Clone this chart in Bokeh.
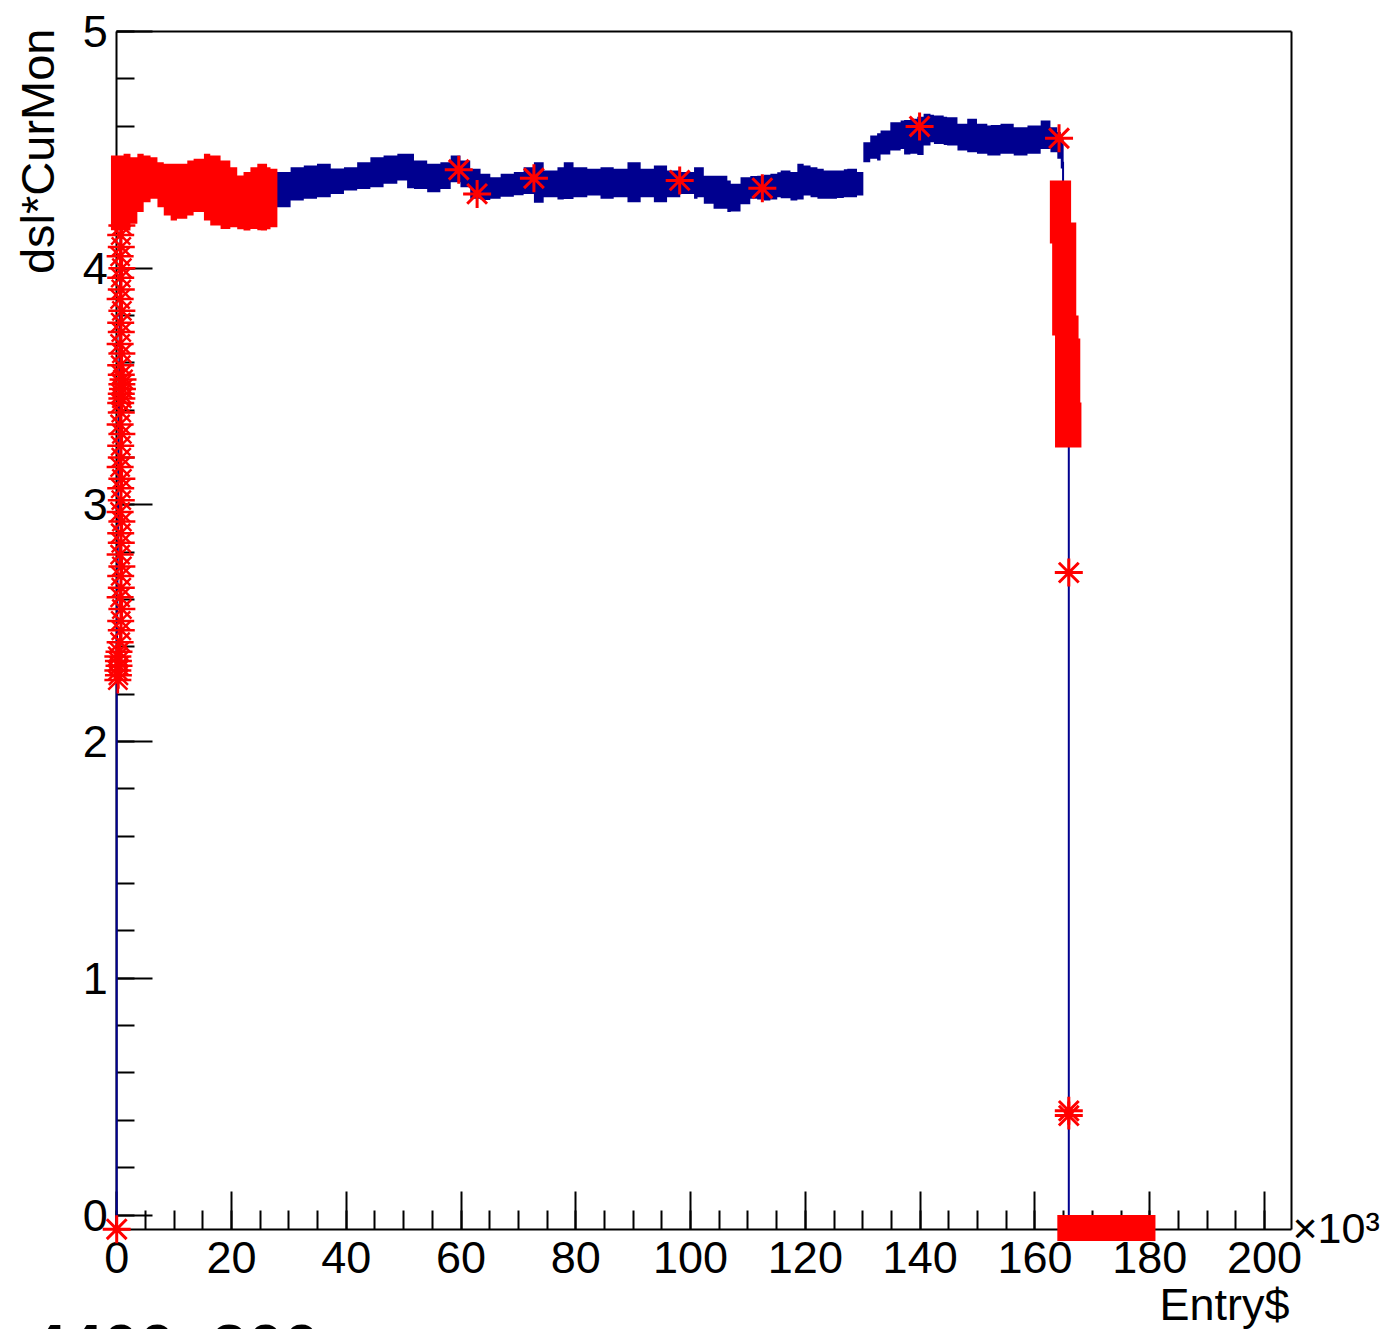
import math
from bokeh.plotting import figure
from bokeh.models import (Range1d, SingleIntervalTicker, FixedTicker, LinearAxis,
                          Label)
from bokeh.embed import file_html
from bokeh.resources import INLINE

# ---------------- data (x in units of 10^3 entries) ----------------
# blue band: upper / lower envelope of the dsl*CurMon trace
band_x = [26.0, 28.5, 30.3, 32.6, 34.9, 37.3, 39.6, 41.9, 44.2, 46.5,
          48.9, 50.6, 51.8, 54.1, 56.4, 58.2, 59.9, 61.6, 63.4, 65.1,
          66.9, 69.2, 70.9, 72.7, 74.4, 76.8, 77.9, 79.6, 82.0, 84.3,
          86.6, 89.0, 91.3, 93.6, 95.9, 98.2, 100.6, 101.2, 102.3, 104.0,
          106.4, 107.0, 108.7, 110.4, 111.6, 112.8, 113.9, 115.1, 115.7, 117.4,
          118.6, 119.7, 120.9, 122.1, 123.2, 124.4, 125.5, 126.7, 127.3, 129.0,
          130.1, 131.3, 132.5, 133.1, 134.8, 136.6, 137.2, 138.3, 139.5, 140.6,
          141.8, 142.4, 144.1, 144.7, 146.5, 148.2, 149.9, 151.7, 152.3, 154.0,
          156.3, 158.7, 161.0, 162.7, 163.9, 164.5, 165.0]
band_hi = [4.406, 4.406, 4.427, 4.434, 4.441, 4.421, 4.427, 4.448, 4.469, 4.476,
           4.483, 4.483, 4.455, 4.441, 4.448, 4.476, 4.455, 4.420, 4.399, 4.384,
           4.399, 4.406, 4.427, 4.448, 4.413, 4.427, 4.448, 4.427, 4.420, 4.427,
           4.420, 4.448, 4.420, 4.434, 4.413, 4.406, 4.427, 4.427, 4.391, 4.391,
           4.370, 4.357, 4.384, 4.390, 4.391, 4.395, 4.399, 4.405, 4.413, 4.406,
           4.441, 4.434, 4.427, 4.420, 4.413, 4.413, 4.413, 4.418, 4.420, 4.406,
           4.532, 4.561, 4.570, 4.582, 4.617, 4.624, 4.626, 4.631, 4.640, 4.652,
           4.648, 4.645, 4.640, 4.638, 4.610, 4.631, 4.610, 4.603, 4.605, 4.610,
           4.596, 4.603, 4.624, 4.596, 4.575, 4.550, 4.550]
band_lo = [4.258, 4.258, 4.286, 4.293, 4.300, 4.314, 4.328, 4.335, 4.342, 4.357,
           4.370, 4.338, 4.335, 4.321, 4.335, 4.363, 4.342, 4.293, 4.288, 4.293,
           4.302, 4.308, 4.314, 4.276, 4.300, 4.290, 4.292, 4.300, 4.307, 4.293,
           4.300, 4.279, 4.300, 4.279, 4.300, 4.314, 4.293, 4.300, 4.272, 4.251,
           4.237, 4.240, 4.270, 4.293, 4.290, 4.286, 4.290, 4.300, 4.295, 4.286,
           4.290, 4.307, 4.300, 4.293, 4.293, 4.293, 4.297, 4.300, 4.300, 4.307,
           4.448, 4.462, 4.455, 4.480, 4.497, 4.504, 4.480, 4.483, 4.478, 4.518,
           4.532, 4.525, 4.520, 4.518, 4.497, 4.490, 4.483, 4.476, 4.476, 4.483,
           4.476, 4.483, 4.504, 4.490, 4.462, 4.421, 4.421]

# thin connecting trace segments
line_xs = [[0.0, 0.0, 0.7], [164.9, 164.9, 165.9, 165.9, 180.0]]
line_ys = [[-0.06, 2.30, 4.25], [4.45, 4.33, 3.25, -0.06, -0.06]]

# red selection: dense block of entries 0 - 28k (envelope incl. markers)
red_x = [-1.0, 1.2, 2.4, 3.6, 4.7, 5.9, 7.1, 8.2, 9.4, 10.5,
         12.3, 13.4, 15.2, 16.3, 18.1, 19.8, 21.0, 22.1, 23.3, 24.5,
         25.1, 26.2, 26.8, 28.0]
red_hi = [4.476, 4.483, 4.469, 4.483, 4.476, 4.469, 4.448, 4.441, 4.441, 4.441,
          4.455, 4.462, 4.483, 4.476, 4.455, 4.427, 4.392, 4.406, 4.427, 4.441,
          4.441, 4.427, 4.420, 4.406]
red_lo = [4.160, 4.159, 4.188, 4.237, 4.279, 4.293, 4.258, 4.223, 4.202, 4.209,
          4.223, 4.237, 4.202, 4.180, 4.166, 4.173, 4.165, 4.159, 4.166, 4.160,
          4.159, 4.165, 4.173, 4.202]

# red selection: start-up ramp (individual entries)
ramp_x = [0.2, 0.3, 0.2, 0.4, 0.3, 0.2, 0.4, 0.6, 0.8, 0.7,
          0.9, 0.6, 0.8, 0.7, 0.9, 0.6, 0.8, 0.7, 0.9, 0.6,
          0.8, 0.7, 0.9, 0.6, 0.8, 0.7, 0.9, 0.6, 0.8, 0.7,
          0.9, 0.8, 1.0, 0.9, 1.1, 0.8, 0.7, 0.9, 0.6, 0.8,
          0.7, 0.9, 0.6, 0.8, 0.7, 0.9, 0.6, 0.8, 0.7, 0.9]
ramp_y = [2.26, 2.28, 2.30, 2.32, 2.34, 2.36, 2.38, 2.42, 2.47, 2.51,
          2.56, 2.61, 2.65, 2.70, 2.74, 2.79, 2.84, 2.88, 2.93, 2.97,
          3.02, 3.07, 3.11, 3.16, 3.20, 3.25, 3.30, 3.34, 3.39, 3.43,
          3.45, 3.47, 3.49, 3.51, 3.53, 3.55, 3.59, 3.64, 3.68, 3.73,
          3.77, 3.82, 3.87, 3.91, 3.96, 4.00, 4.05, 4.09, 4.14, 4.18]

# red selection: beam-off drop (envelope incl. markers)
drop_y = [3.243, 3.433, 3.703, 3.716, 3.800, 4.104, 4.193, 4.370]
drop_left = [163.5, 163.5, 163.5, 163.0, 163.0, 162.6, 162.6, 162.6]
drop_right = [168.1, 167.9, 167.6, 167.6, 167.2, 167.2, 166.3, 166.3]

# red selection: zero tail
tail_x = [163.9, 181.0]
tail_lo = [-0.110, -0.110]
tail_hi = [0.000, 0.000]

# red selection: isolated entries
stars_x = [0.0, 59.6, 62.8, 72.7, 98.1, 112.5, 139.9, 164.2, 165.9, 165.9, 165.9]
stars_y = [-0.06, 4.416, 4.314, 4.380, 4.371, 4.338, 4.599, 4.549, 2.714, 0.44, 0.42]

# axis frame (ROOT pad frame) and ticks
x_frame = (0.0, 204.65)
y_frame = (-0.061, 5.0)
x_tick_step = 20
y_tick_step = 1

BLUE = "#00008f"
RED = "#ff0000"
FONT = "Liberation Sans"

W, H = 1380, 1329
PX_X = 5.739     # pixels per 10^3 entries
PX_Y = 236.7     # pixels per unit
LEFT, TOP = 116.2, 31.0

x_start = x_frame[0] - LEFT / PX_X
x_end = x_start + W / PX_X
y_end = y_frame[1] + TOP / PX_Y
y_start = y_end - H / PX_Y

# ---------------- figure ----------------
p = figure(width=W, height=H, output_backend="svg", toolbar_location=None,
           x_range=Range1d(x_start, x_end), y_range=Range1d(y_start, y_end),
           x_axis_location=None, y_axis_location=None,
           min_border=0, min_border_left=0, min_border_right=0,
           min_border_top=0, min_border_bottom=0)
p.background_fill_color = "white"
p.border_fill_color = "white"
p.outline_line_color = None
for g in p.grid:
    g.visible = False


def style_axis(ax, tin):
    ax.major_tick_in = tin
    ax.major_tick_out = 0
    ax.minor_tick_in = tin // 2
    ax.minor_tick_out = 0
    ax.major_tick_line_width = 2
    ax.minor_tick_line_width = 2
    ax.axis_line_width = 2
    ax.axis_line_color = "black"
    ax.major_tick_line_color = "black"
    ax.minor_tick_line_color = "black"
    ax.major_label_text_font = FONT
    ax.major_label_text_font_size = "45px"
    ax.major_label_text_color = "black"


xaxis = LinearAxis(ticker=SingleIntervalTicker(interval=x_tick_step, num_minor_ticks=4),
                   fixed_location=y_frame[0], bounds=x_frame)
style_axis(xaxis, 38)
xaxis.major_label_standoff = 13
yaxis = LinearAxis(ticker=SingleIntervalTicker(interval=y_tick_step, num_minor_ticks=5),
                   fixed_location=x_frame[0], bounds=y_frame)
style_axis(yaxis, 36)
yaxis.major_label_standoff = 9
p.add_layout(xaxis, "below")
p.add_layout(yaxis, "left")

# top and right edges of the frame
topaxis = LinearAxis(ticker=FixedTicker(ticks=[]), fixed_location=y_frame[1], bounds=x_frame)
rightaxis = LinearAxis(ticker=FixedTicker(ticks=[]), fixed_location=x_frame[1], bounds=y_frame)
for ax in (topaxis, rightaxis):
    style_axis(ax, 0)
p.add_layout(topaxis, "above")
p.add_layout(rightaxis, "right")

# ---------------- data renderers ----------------
p.varea_step(x=band_x, y1=band_lo, y2=band_hi, step_mode="after",
             fill_color=BLUE, level="overlay")
p.multi_line(xs=line_xs, ys=line_ys, line_color=BLUE, line_width=2, level="overlay")
p.varea_step(x=red_x, y1=red_lo, y2=red_hi, step_mode="after",
             fill_color=RED, level="overlay")
p.scatter(x=ramp_x, y=ramp_y, marker="asterisk", size=27, line_color=RED,
          line_width=2.5, level="overlay")
p.harea_step(y=drop_y, x1=drop_left, x2=drop_right, step_mode="after",
             fill_color=RED, level="overlay")
p.varea(x=tail_x, y1=tail_lo, y2=tail_hi, fill_color=RED, level="overlay")
p.scatter(x=stars_x, y=stars_y, marker="asterisk", size=28, line_color=RED,
          line_width=3, level="overlay")

# ---------------- texts ----------------
p.add_layout(Label(x=(37 - LEFT) / PX_X, y=y_end - 28 / PX_Y,
                   text="dsl*CurMon", angle=math.pi / 2,
                   text_align="right", text_baseline="alphabetic",
                   text_font=FONT, text_font_size="47px", text_color="black"))
p.add_layout(Label(x=(1289 - LEFT) / PX_X, y=y_end - 1278 / PX_Y,
                   text="Entry$", text_align="right",
                   text_baseline="top", text_font=FONT,
                   text_font_size="45px", text_color="black"))
p.add_layout(Label(x=(1292 - LEFT) / PX_X, y=y_end - 1227 / PX_Y,
                   text="\u00d710\u00b3", text_align="left",
                   text_baseline="alphabetic", text_font=FONT,
                   text_font_size="43px", text_color="black"))
p.add_layout(Label(x=(30 - LEFT) / PX_X, y=y_end - 1310 / PX_Y,
                   text="4400_300", text_align="left",
                   text_baseline="top", text_font=FONT, text_font_style="bold",
                   text_font_size="65px", text_color="black"))

open("out.html", "w").write(file_html(p, INLINE))
